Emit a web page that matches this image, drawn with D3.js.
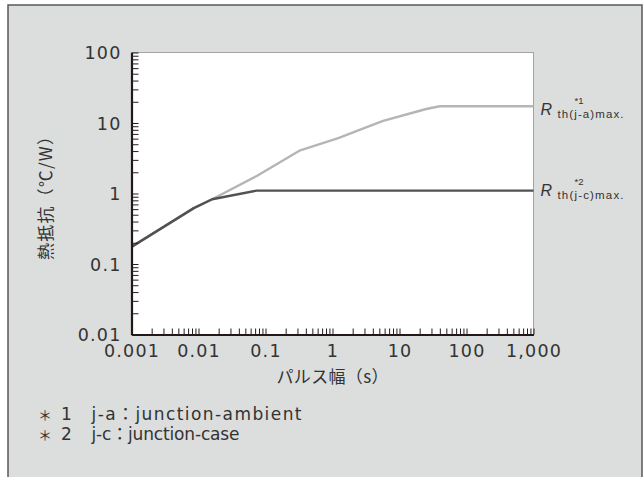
<!DOCTYPE html>
<html>
<head>
<meta charset="utf-8">
<script src="https://cdn.jsdelivr.net/npm/d3@7"></script>
<style>
    body { margin: 0; background: #fff; }
    text { fill: #333; font-family: "DejaVu Sans", "Noto Sans CJK JP", sans-serif; }
    .jp { font-family: "Noto Sans CJK JP", sans-serif; }
</style>
</head>
<body>
<svg id="chart"></svg>
<script>
// pulse width (s) vs thermal resistance (°C/W)
const ambientX = [0.001, 0.0085, 0.016, 0.074, 0.33, 1.22, 2.9, 5.7, 25, 40, 1000];
const ambientY = [0.175, 0.62, 0.83, 1.77, 4.1, 6.1, 8.4, 10.7, 15.8, 17.3, 17.3];
const caseX = [0.001, 0.0085, 0.016, 0.074, 1000];
const caseY = [0.175, 0.62, 0.83, 1.1, 1.1];

const xTicks = [0.001, 0.01, 0.1, 1, 10, 100, 1000];
const xTickLabels = ["0.001", "0.01", "0.1", "1", "10", "100", "1,000"];
const yTicks = [0.01, 0.1, 1, 10, 100];
const yTickLabels = ["0.01", "0.1", "1", "10", "100"];

const xTitle = "パルス幅（s）";
const yTitle = "熱抵抗（℃/W）";
const seriesSub = ["th(j-a)max.", "th(j-c)max."];
const seriesSup = ["*1", "*2"];
const noteNums = ["1", "2"];
const noteTexts = ["j-a：junction-ambient", "j-c：junction-case"];

class ThermalChart {
    constructor(_config) {
        this.config = {
            parentElement: _config.parentElement,
            containerWidth: _config.containerWidth || 644,
            containerHeight: _config.containerHeight || 477,
            margin: { top: 52.5, left: 131.5 }
        }
        this.width = 402;
        this.height = 282;
        this.initVis();
    }

    initVis() {
        let vis = this;

        vis.svg = d3.select(vis.config.parentElement)
            .attr('width', vis.config.containerWidth)
            .attr('height', vis.config.containerHeight);

        // grey panel behind everything
        vis.svg.append('rect')
            .attr('x', 8).attr('y', 5)
            .attr('width', 634).attr('height', 490)
            .attr('fill', '#dcdddd')
            .attr('stroke', '#595757')
            .attr('stroke-width', 1.5);

        vis.chart = vis.svg.append('g')
            .attr('transform', `translate(${vis.config.margin.left},${vis.config.margin.top})`);

        vis.xScale = d3.scaleLog().domain([0.001, 1000]).range([0, vis.width]);
        vis.yScale = d3.scaleLog().domain([0.01, 100]).range([vis.height, 0]);

        vis.chart.append('rect')
            .attr('width', vis.width)
            .attr('height', vis.height)
            .attr('fill', '#fff')
            .attr('stroke', '#a3a3a3')
            .attr('stroke-width', 1);

        vis.updateVis();
    }

    updateVis() {
        let vis = this;

        let line = d3.line()
            .x(d => vis.xScale(d[0]))
            .y(d => vis.yScale(d[1]));

        let series = [
            { pts: d3.zip(ambientX, ambientY), color: '#b5b5b5', dy: 8.5 },
            { pts: d3.zip(caseX, caseY), color: '#525252', dy: 5 }
        ];

        vis.chart.selectAll('.curve')
            .data(series)
            .enter()
            .append('path')
            .attr('class', 'curve')
            .attr('d', d => line(d.pts))
            .attr('fill', 'none')
            .attr('stroke', d => d.color)
            .attr('stroke-width', 2.4)
            .attr('stroke-linejoin', 'round');

        // minor ticks pointing into the plot
        let xTickAxis = vis.chart.append('g')
            .attr('transform', `translate(0,${vis.height})`)
            .call(d3.axisBottom(vis.xScale)
                .tickValues(vis.xScale.ticks())
                .tickSize(-6).tickSizeOuter(0).tickFormat(''));
        let yTickAxis = vis.chart.append('g')
            .call(d3.axisLeft(vis.yScale)
                .tickValues(vis.yScale.ticks())
                .tickSize(-7).tickSizeOuter(0).tickFormat(''));
        [xTickAxis, yTickAxis].forEach(g => {
            g.selectAll('.tick line').attr('stroke', '#231f20').attr('stroke-width', 1);
            g.select('.domain').attr('stroke', '#231815').attr('stroke-width', 2.2);
        });

        // tick labels
        let xLab = vis.chart.append('g')
            .attr('transform', `translate(0,${vis.height})`)
            .call(d3.axisBottom(vis.xScale)
                .tickValues(xTicks).tickSize(0)
                .tickFormat((d, i) => xTickLabels[i]));
        xLab.selectAll('text')
            .attr('y', 16).attr('dy', '0.36em')
            .attr('font-size', 17.5).attr('letter-spacing', 1.2);
        let yLab = vis.chart.append('g')
            .call(d3.axisLeft(vis.yScale)
                .tickValues(yTicks).tickSize(0).tickPadding(10)
                .tickFormat((d, i) => yTickLabels[i]));
        yLab.selectAll('text')
            .attr('dy', '0.36em')
            .attr('font-size', 17.5).attr('letter-spacing', 1.2);
        [xLab, yLab].forEach(g => {
            g.select('.domain').remove();
            g.selectAll('text').style('fill', '#333');
            g.attr('font-family', null).attr('font-size', null);
        });

        // axis titles
        vis.svg.append('text')
            .attr('class', 'jp')
            .attr('x', 332.5).attr('y', 382.5)
            .attr('text-anchor', 'middle')
            .attr('font-size', 17)
            .attr('textLength', 112)
            .text(xTitle);
        vis.svg.append('text')
            .attr('class', 'jp')
            .attr('transform', 'translate(52,194) rotate(-90)')
            .attr('text-anchor', 'middle')
            .attr('font-size', 17)
            .attr('textLength', 132)
            .text(yTitle);

        // R th labels at the right end of each curve
        let lab = vis.chart.selectAll('.rlabel')
            .data(series)
            .enter()
            .append('g')
            .attr('class', 'rlabel')
            .attr('transform', d => `translate(${vis.width + 7},${vis.yScale(d.pts[d.pts.length - 1][1]) + d.dy})`);
        lab.append('text')
            .attr('font-size', 16)
            .attr('font-style', 'italic')
            .style('font-family', '"Liberation Sans", sans-serif')
            .text('R');
        lab.append('text')
            .attr('x', 17).attr('y', 3.5)
            .attr('font-size', 11.5)
            .attr('textLength', 66)
            .style('font-family', '"Liberation Sans", sans-serif')
            .text((d, i) => seriesSub[i]);
        lab.append('text')
            .attr('x', 34).attr('y', -11)
            .attr('font-size', 9.5)
            .style('font-family', '"Liberation Sans", sans-serif')
            .text((d, i) => seriesSup[i]);

        // footnotes
        let notes = vis.svg.selectAll('.note')
            .data(noteTexts)
            .enter()
            .append('g')
            .attr('class', 'note')
            .attr('transform', (d, i) => `translate(0,${420 + i * 20})`);
        notes.append('text')
            .attr('class', 'jp')
            .attr('x', 38)
            .attr('font-size', 14)
            .text('＊');
        notes.append('text')
            .attr('x', 61)
            .attr('font-size', 17)
            .text((d, i) => noteNums[i]);
        notes.append('text')
            .attr('x', 91.5)
            .attr('font-size', 17)
            .attr('textLength', (d, i) => i === 0 ? 210 : 148)
            .text(d => d);
    }
}

new ThermalChart({ parentElement: '#chart' });
</script>
</body>
</html>
